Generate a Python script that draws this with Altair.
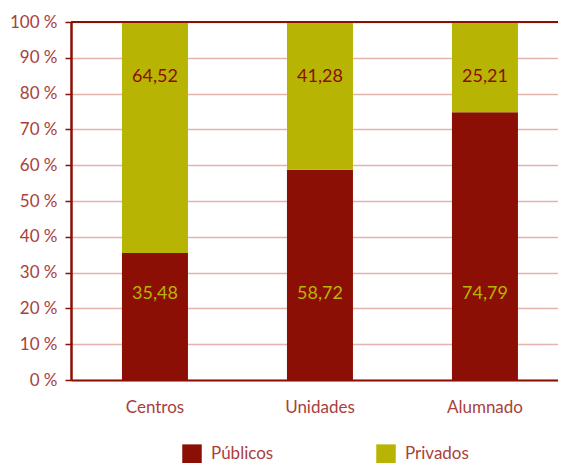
import altair as alt
import pandas as pd

categories = ["Centros", "Unidades", "Alumnado"]
publicos = [35.48, 58.72, 74.79]
privados = [64.52, 41.28, 25.21]
series = ["Públicos", "Privados"]
y_ticks = [0, 10, 20, 30, 40, 50, 60, 70, 80, 90, 100]

RED = "#8B0F04"
OLIVE = "#B8B404"
TXT = "#A8413B"
GRID = "#E3B5AC"
FONT = "Lato"

rows = []
for c, p, q in zip(categories, publicos, privados):
    rows.append({"cat": c, "serie": "Públicos", "val": p, "start": 0, "end": p,
                 "txt": f"{p:.2f}".replace(".", ",")})
    rows.append({"cat": c, "serie": "Privados", "val": q, "start": p, "end": p + q,
                 "txt": f"{q:.2f}".replace(".", ",")})
df = pd.DataFrame(rows)

xscale = alt.Scale(paddingInner=0.6, paddingOuter=0.2758, align=0.56)
xaxis = alt.Axis(labelAngle=0, labelColor=TXT, labelFont=FONT, labelFontSize=17,
                 labelPadding=19, ticks=False, domainColor=RED, domainWidth=2, title=None)

yscale = alt.Scale(domain=[0, 100], nice=False)
yaxis = alt.Axis(values=y_ticks, labelExpr="datum.value + ' %'", labelColor=TXT,
                 labelFont=FONT, labelFontSize=17, labelPadding=8,
                 labelOverlap=False, tickCount=20, title=None,
                 tickColor=RED, tickSize=6, tickWidth=1.5,
                 domainColor=RED, domainWidth=2.5,
                 gridColor=GRID, gridWidth=1.5)

bars = alt.Chart(df).mark_bar(size=66).encode(
    x=alt.X("cat:N", sort=categories, title=None, scale=xscale, axis=xaxis),
    y=alt.Y("start:Q", scale=yscale, title=None, axis=yaxis),
    y2="end:Q",
    color=alt.Color("serie:N", scale=alt.Scale(domain=series, range=[RED, OLIVE]),
                    title=None,
                    legend=alt.Legend(orient="none", legendX=111, legendY=422,
                                      direction="horizontal", symbolType="square",
                                      symbolSize=380, symbolStrokeWidth=0, symbolOpacity=1,
                                      labelColor=TXT, labelFont=FONT, labelFontSize=17,
                                      labelOffset=9, columnPadding=102)),
)

top_rule = alt.Chart(pd.DataFrame({"y": [100]})).mark_rule(color=RED, strokeWidth=2).encode(
    y=alt.Y("y:Q", scale=yscale, title=None, axis=yaxis)
)

pub_txt = alt.Chart(df[df.serie == "Públicos"]).mark_text(
    color=OLIVE, font=FONT, fontSize=18, baseline="middle"
).encode(x=alt.X("cat:N", sort=categories, title=None, scale=xscale, axis=xaxis),
         y=alt.YDatum(24.0, scale=yscale, title=None, axis=yaxis), text="txt:N")

priv_txt = alt.Chart(df[df.serie == "Privados"]).mark_text(
    color=RED, font=FONT, fontSize=18, baseline="middle"
).encode(x=alt.X("cat:N", sort=categories, title=None, scale=xscale, axis=xaxis),
         y=alt.YDatum(84.7, scale=yscale, title=None, axis=yaxis), text="txt:N")

chart = alt.layer(bars, top_rule, pub_txt, priv_txt).properties(
    width=487, height=358,
    autosize=alt.AutoSizeParams(type="none"),
    padding={"left": 63, "top": 14, "right": 0, "bottom": 83},
).configure_view(stroke=None).configure(background="white")

chart.save("out.html", embed_options={"renderer": "svg", "actions": False})
